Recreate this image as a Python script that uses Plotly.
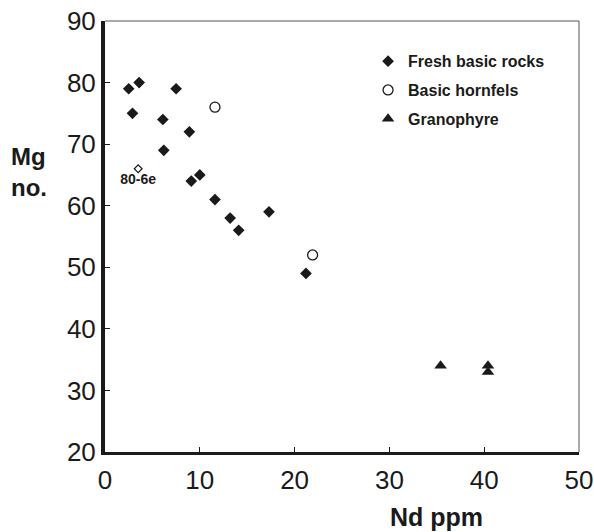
import plotly.graph_objects as go

# Data
fresh_nd = [2.5, 3.6, 7.5, 2.9, 6.1, 8.9, 6.2, 9.1, 10.0, 11.6, 13.2, 14.1, 17.3, 21.2]
fresh_mg = [79, 80, 79, 75, 74, 72, 69, 64, 65, 61, 58, 56, 59, 49]

special_nd = [3.5]
special_mg = [66]
special_label = ["80-6e"]

hornfels_nd = [11.6, 21.9]
hornfels_mg = [76, 52]

grano_nd = [35.4, 40.4, 40.4]
grano_mg = [34, 34, 33]

x_ticks = [0, 10, 20, 30, 40, 50]
y_ticks = [20, 30, 40, 50, 60, 70, 80, 90]

FONT = "Liberation Sans, Arial, Helvetica, sans-serif"
INK = "#1a1a1a"

fig = go.Figure()
fig.add_trace(go.Scatter(
    x=fresh_nd, y=fresh_mg, mode="markers", name="Fresh basic rocks",
    legendgroup="a",
    marker=dict(symbol="diamond", size=9, color=INK, line=dict(width=0))))
fig.add_trace(go.Scatter(
    x=hornfels_nd, y=hornfels_mg, mode="markers", name="Basic hornfels",
    legendgroup="b",
    marker=dict(symbol="circle-open", size=10, color=INK, line=dict(width=1.3))))
fig.add_trace(go.Scatter(
    x=grano_nd, y=grano_mg, mode="markers", name="Granophyre",
    legendgroup="c",
    marker=dict(symbol="triangle-up", size=11, color=INK, line=dict(width=0))))
fig.add_trace(go.Scatter(
    x=special_nd, y=special_mg, mode="markers+text", text=special_label,
    textposition="bottom center", showlegend=False,
    textfont=dict(family=FONT, size=14, color=INK, weight="bold"),
    marker=dict(symbol="diamond-open", size=6, color=INK, line=dict(width=1.2))))

# thin top and right frame lines
fig.add_shape(type="line", xref="paper", yref="paper", x0=0, x1=1, y0=1, y1=1,
              line=dict(color="#555", width=1))
fig.add_shape(type="line", xref="paper", yref="paper", x0=1, x1=1, y0=0, y1=1,
              line=dict(color="#555", width=1))

fig.update_layout(
    width=594, height=532,
    margin=dict(l=105, r=15, t=21, b=80),
    paper_bgcolor="white", plot_bgcolor="white",
    font=dict(family=FONT, color=INK),
    showlegend=True,
    legend=dict(x=0.555, y=0.946, xanchor="left", yanchor="top",
                bgcolor="rgba(0,0,0,0)", tracegroupgap=5,
                font=dict(family=FONT, size=16, color=INK, weight="bold")),
    xaxis=dict(range=[0, 50], tickvals=x_ticks, ticktext=[str(v) for v in x_ticks],
               automargin=False, ticklabelstandoff=3,
               showgrid=False, zeroline=False, showline=True, linecolor=INK, linewidth=2.5,
               ticks="inside", ticklen=5, tickwidth=1, tickcolor=INK,
               tickfont=dict(family=FONT, size=26, color=INK)),
    yaxis=dict(range=[20, 90], tickvals=y_ticks, ticktext=[str(v) for v in y_ticks],
               automargin=False,
               showgrid=False, zeroline=False, showline=True, linecolor=INK, linewidth=4,
               ticks="inside", ticklen=5, tickwidth=1, tickcolor=INK,
               tickfont=dict(family=FONT, size=26, color=INK)),
)

fig.add_annotation(text="<b>Mg</b><br><b>no.</b>", xref="paper", yref="paper",
                   x=-0.203, y=0.65, xanchor="left", yanchor="middle", align="left",
                   showarrow=False, font=dict(family=FONT, size=24, color=INK))
fig.add_annotation(text="<b>Nd ppm</b>", xref="paper", yref="paper",
                   x=0.700, y=-0.150, xanchor="center", yanchor="middle",
                   showarrow=False, font=dict(family=FONT, size=25, color=INK))

fig.write_html("out.html")
